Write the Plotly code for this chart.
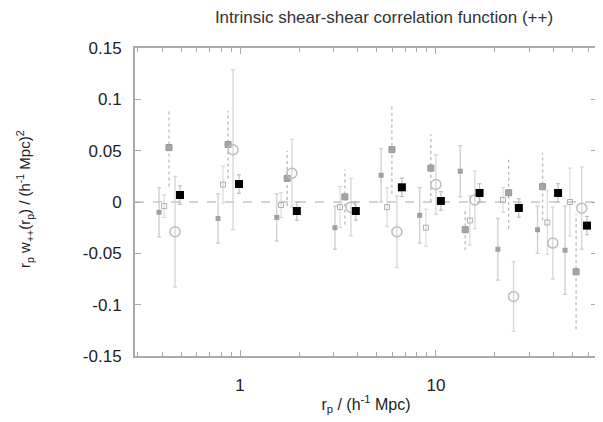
import plotly.graph_objects as go

# ---- data ----
r1 = [0.386, 0.772, 1.54, 3.05, 5.25, 8.26, 13.3, 20.7, 33.0, 45.6]
v1 = [-0.010, -0.016, -0.015, -0.025, 0.026, -0.013, 0.030, -0.046, -0.027, -0.047]
e1 = [0.024, 0.024, 0.023, 0.021, 0.026, 0.027, 0.025, 0.030, 0.023, 0.043]

r2 = [0.41, 0.819, 1.62, 3.24, 5.63, 8.89, 14.9, 22.0, 37.0, 48.3]
v2 = [-0.004, 0.017, -0.003, -0.005, -0.005, -0.025, -0.018, 0.002, -0.020, 0.000]
e2 = [0.011, 0.018, 0.012, 0.020, 0.019, 0.018, 0.024, 0.012, 0.031, 0.033]

r3 = [0.434, 0.869, 1.74, 3.43, 5.96, 9.42, 14.1, 23.5, 35.0, 51.9]
v3 = [0.053, 0.056, 0.023, 0.005, 0.051, 0.033, -0.027, 0.009, 0.015, -0.068]
e3 = [0.038, 0.033, 0.027, 0.027, 0.043, 0.033, 0.020, 0.035, 0.033, 0.056]

r4 = [0.466, 0.921, 1.84, 3.68, 6.32, 9.99, 15.8, 24.9, 39.5, 55.5]
v4 = [-0.029, 0.051, 0.028, -0.005, -0.029, 0.017, 0.002, -0.092, -0.040, -0.006]
e4 = [0.054, 0.078, 0.033, 0.028, 0.035, 0.029, 0.028, 0.034, 0.035, 0.040]

r5 = [0.494, 0.988, 1.95, 3.90, 6.70, 10.6, 16.7, 26.5, 42.0, 59.0]
v5 = [0.0068, 0.0175, -0.0088, -0.0088, 0.0143, 0.001, 0.0088, -0.0058, 0.0088, -0.023]
e5 = [0.009, 0.009, 0.009, 0.009, 0.009, 0.009, 0.009, 0.009, 0.009, 0.009]

y_tickvals = [-0.15, -0.1, -0.05, 0, 0.05, 0.1, 0.15]
y_ticktext = ["-0.15", "-0.1", "-0.05", "0", "0.05", "0.1", "0.15"]
x_tickvals = [1, 10]
x_ticktext = ["1", "10"]
x_minor = [0.3, 0.4, 0.5, 0.6, 0.7, 0.8, 0.9, 2, 3, 4, 5, 6, 7, 8, 9, 20, 30, 40, 50, 60]

title = "Intrinsic shear-shear correlation function (++)"
xtitle = "r<sub>p</sub> / (h<sup>-1</sup> Mpc)"
ytitle = "r<sub>p</sub> w<sub>++</sub>(r<sub>p</sub>) / (h<sup>-1</sup> Mpc)<sup>2</sup>"

FONT = "Liberation Sans, Arial, sans-serif"


def dotted_bars(r, v, e):
    xs, ys = [], []
    for ri, vi, ei in zip(r, v, e):
        xs += [ri, ri, None]
        ys += [vi - ei, vi + ei, None]
    return xs, ys


fig = go.Figure()

# series 1: solid light bars, small grey squares
fig.add_trace(go.Scatter(
    x=r1, y=v1, mode="markers",
    marker=dict(symbol="square", size=5, color="#a0a0a0"),
    error_y=dict(type="data", array=e1, color="#cdcdcd", thickness=1.3, width=2),
    showlegend=False))

# series 2: small open squares, light bars
fig.add_trace(go.Scatter(
    x=r2, y=v2, mode="markers",
    marker=dict(symbol="square-open", size=5, color="#adadad", line=dict(width=1)),
    error_y=dict(type="data", array=e2, color="#d4d4d4", thickness=1, width=2),
    showlegend=False))

# series 3: dotted bars, grey filled squares
dx, dy = dotted_bars(r3, v3, e3)
fig.add_trace(go.Scatter(
    x=dx, y=dy, mode="lines",
    line=dict(color="#b8b8b8", width=1.3, dash="dot"),
    hoverinfo="skip", showlegend=False))
fig.add_trace(go.Scatter(
    x=r3, y=v3, mode="markers",
    marker=dict(symbol="square", size=6, color="#a5a5a5", line=dict(color="#959595", width=1)),
    showlegend=False))

# series 4: open circles, light solid bars
fig.add_trace(go.Scatter(
    x=r4, y=v4, mode="markers",
    marker=dict(symbol="circle-open", size=10, color="#bdbdbd", line=dict(width=1.5)),
    error_y=dict(type="data", array=e4, color="#d6d6d6", thickness=1.3, width=2),
    showlegend=False))

# series 5: black squares
fig.add_trace(go.Scatter(
    x=r5, y=v5, mode="markers",
    marker=dict(symbol="square", size=8, color="#000000"),
    error_y=dict(type="data", array=e5, color="#b5b5b5", thickness=1, width=2),
    showlegend=False))

fig.add_shape(type="line", xref="paper", x0=0, x1=1, yref="y", y0=0, y1=0,
              line=dict(color="#a8a8a8", width=1.2, dash="dash"), layer="below")

# the page body has an 8px default margin: margins compensate so the plot box
# lands at x 135..597, y 48..356 in the window
fig.update_layout(
    width=603, height=422,
    margin=dict(l=127, r=14, t=40, b=74),
    paper_bgcolor="white", plot_bgcolor="white",
    font=dict(family=FONT, size=17, color="#222"),
    title=dict(text=title, x=0.539, xref="paper", y=1 - 9 / 422, yref="container",
               yanchor="middle", xanchor="center", font=dict(size=17, color="#333")),
    xaxis=dict(type="log", range=[-0.536, 1.822],
               tickmode="array", tickvals=x_tickvals, ticktext=x_ticktext,
               ticks="inside", ticklen=6, tickcolor="#aaa", showgrid=False, zeroline=False,
               showline=True, linecolor="#aaa", linewidth=2, mirror="allticks",
               minor=dict(tickmode="array", tickvals=x_minor, ticks="inside", ticklen=4,
                          tickcolor="#aaa", showgrid=False),
               title=dict(text=xtitle, standoff=4, font=dict(size=16)),
               ticklabelstandoff=13),
    yaxis=dict(range=[-0.15, 0.15], tickmode="array", tickvals=y_tickvals, ticktext=y_ticktext,
               ticks="inside", ticklen=6, tickcolor="#aaa", showgrid=False, zeroline=False,
               showline=True, linecolor="#aaa", linewidth=2, mirror="allticks",
               ticklabelstandoff=8),
    annotations=[dict(text=ytitle, xref="paper", yref="paper", x=-0.238, y=0.51,
                      xanchor="center", yanchor="middle", textangle=-90, showarrow=False,
                      font=dict(size=15, color="#222"))],
)

fig.write_html("out.html")
